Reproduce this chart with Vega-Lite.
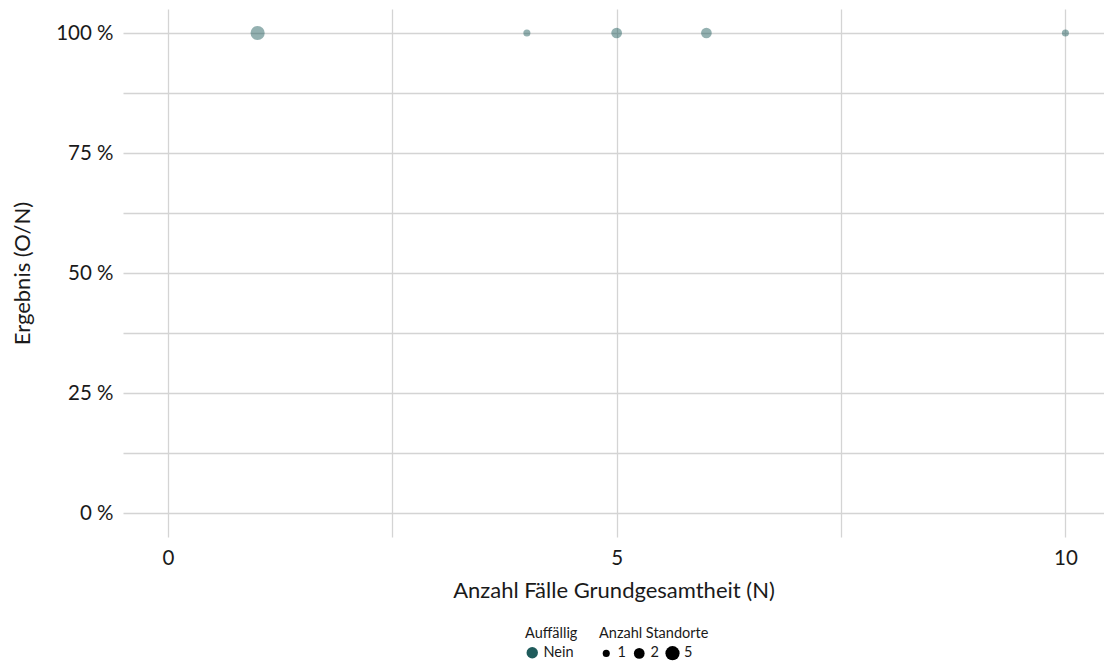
{
  "$schema": "https://vega.github.io/schema/vega-lite/v6.json",
  "width": 981,
  "height": 528,
  "autosize": {"type": "none"},
  "padding": {"left": 123, "top": 9, "right": 0, "bottom": 127},
  "background": "white",
  "config": {
    "font": "Lato",
    "view": {"stroke": null},
    "axis": {
      "domain": false,
      "ticks": false,
      "gridColor": "#d4d4d4",
      "gridWidth": 1.3,
      "labelColor": "#1a1a1a",
      "titleColor": "#1a1a1a",
      "labelFontSize": 20.5,
      "titleFontSize": 22,
      "titleFontWeight": "normal",
      "labelFont": "Lato",
      "titleFont": "Lato"
    },
    "legend": {
      "titleFontSize": 14.5,
      "labelFontSize": 14.5,
      "titleFontWeight": "normal",
      "titleColor": "#1a1a1a",
      "labelColor": "#1a1a1a",
      "titleFont": "Lato",
      "labelFont": "Lato"
    }
  },
  "data": {
    "values": [
      {"N": 1, "Ergebnis": 1, "Anzahl": 5, "Auffaellig": "Nein"},
      {"N": 4, "Ergebnis": 1, "Anzahl": 1, "Auffaellig": "Nein"},
      {"N": 5, "Ergebnis": 1, "Anzahl": 2, "Auffaellig": "Nein"},
      {"N": 6, "Ergebnis": 1, "Anzahl": 2, "Auffaellig": "Nein"},
      {"N": 10, "Ergebnis": 1, "Anzahl": 1, "Auffaellig": "Nein"}
    ]
  },
  "mark": {"type": "circle", "opacity": 0.48, "clip": false},
  "encoding": {
    "x": {
      "field": "N",
      "type": "quantitative",
      "scale": {"domain": [-0.5, 10.43], "nice": false, "zero": false},
      "axis": {
        "values": [0, 2.5, 5, 7.5, 10],
        "labelExpr": "datum.value % 5 == 0 ? datum.label : ''",
        "title": "Anzahl Fälle Grundgesamtheit (N)",
        "labelPadding": 11,
        "titlePadding": 12
      }
    },
    "y": {
      "field": "Ergebnis",
      "type": "quantitative",
      "scale": {"domain": [-0.05, 1.05], "nice": false, "zero": false},
      "axis": {
        "values": [0, 0.125, 0.25, 0.375, 0.5, 0.625, 0.75, 0.875, 1],
        "labelExpr": "(datum.value * 100) % 25 == 0 ? format(datum.value * 100, '.0f') + ' %' : ''",
        "title": "Ergebnis (O/N)",
        "labelPadding": 10,
        "titlePadding": 21
      }
    },
    "color": {
      "field": "Auffaellig",
      "type": "nominal",
      "scale": {"domain": ["Nein"], "range": ["#1f5b5b"]},
      "legend": {
        "title": "Auffällig",
        "orient": "none",
        "legendX": 402,
        "legendY": 618,
        "symbolType": "circle",
        "symbolSize": 130,
        "symbolOpacity": 1,
        "labelOffset": 4,
        "titlePadding": 4
      }
    },
    "size": {
      "field": "Anzahl",
      "type": "quantitative",
      "scale": {"type": "log", "domain": [1, 5], "range": [50, 201]},
      "legend": {
        "title": "Anzahl Standorte",
        "orient": "none",
        "legendX": 476,
        "legendY": 618,
        "direction": "horizontal",
        "values": [1, 2, 5],
        "symbolType": "circle",
        "symbolFillColor": "black",
        "symbolStrokeWidth": 0,
        "symbolOpacity": 1,
        "labelOffset": 4,
        "columnPadding": 6,
        "titlePadding": 4
      }
    }
  }
}
